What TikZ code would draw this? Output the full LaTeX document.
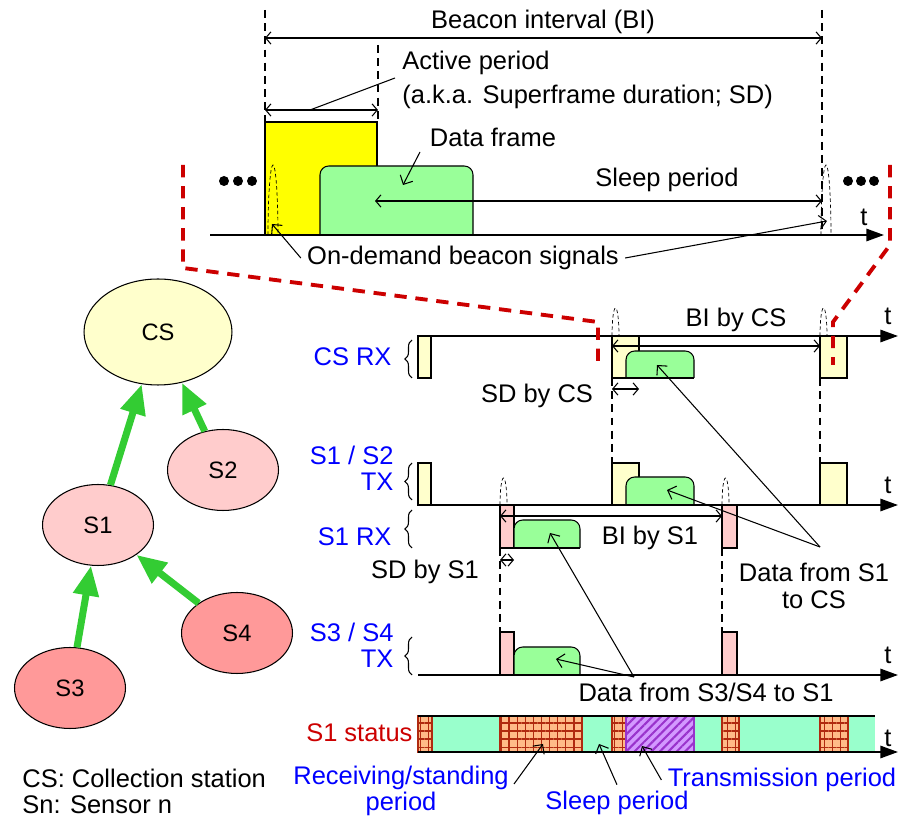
\documentclass[tikz,border=0pt]{standalone}
\usepackage{fontspec}
\setmainfont{Liberation Sans}
\usetikzlibrary{shapes.geometric, arrows.meta, positioning, patterns.meta, decorations.pathreplacing}
\definecolor{bcnyellow}{HTML}{FFFF00}
\definecolor{paleyellow}{HTML}{FFFFCC}
\definecolor{palepink}{HTML}{FFCCCC}
\definecolor{salmon}{HTML}{FF9999}
\definecolor{framegreen}{HTML}{99FF99}
\definecolor{linkgreen}{HTML}{33CC33}
\definecolor{sleepaqua}{HTML}{99FFCC}
\definecolor{rxorange}{HTML}{FFBB88}
\definecolor{rxgrid}{HTML}{B02A10}
\definecolor{txpurple}{HTML}{D399FF}
\definecolor{txline}{HTML}{9933CC}
\definecolor{zoomred}{HTML}{CC0000}
\definecolor{rowblue}{HTML}{0000FF}
\tikzstyle{axis} = [line width=1.1pt, -{Triangle[length=10pt,width=7pt]}]
\tikzstyle{span} = [{Straight Barb[length=3pt,width=7pt]}-{Straight Barb[length=3pt,width=7pt]}]
\tikzstyle{pointer} = [-{Straight Barb[length=4pt,width=8pt]}]
\tikzstyle{guide} = [dash pattern=on 4.5pt off 3pt]
\tikzstyle{beacon} = [thin, dash pattern=on 2pt off 1.5pt]
\tikzstyle{zoomline} = [zoomred, line width=2.2pt, dash pattern=on 7pt off 5pt]
\tikzstyle{station} = [ellipse, draw, font=\fontsize{13.5}{15}\selectfont, inner sep=0pt]
\tikzstyle{link} = [linkgreen, line width=4pt, -{Triangle[length=17pt,width=14pt]}]
\tikzstyle{rowlabel} = [rowblue, anchor=east, align=right, inner sep=0pt]
\tikzstyle{rowbrace} = [decorate, decoration={brace, amplitude=4pt}]
\tikzstyle{standby} = [fill=rxorange, draw=rxgrid, postaction={pattern={Hatch[angle=0,distance=4.6pt,line width=0.8pt]}, pattern color=rxgrid}]
\tikzstyle{asleep} = [fill=sleepaqua]
\tikzstyle{sending} = [fill=txpurple, draw=txline, postaction={pattern={Lines[angle=45,distance=3.4pt,line width=1.2pt]}, pattern color=txline}]
\newcommand{\dataframe}[4]{%
  \filldraw[fill=framegreen, rounded corners=5pt] (#1,#4) -- (#1,#2) -- (#3,#2) -- (#3,#4);
  \draw (#1,#4) -- (#3,#4);}

\begin{document}
\begin{tikzpicture}[x=0.02cm, y=-0.02cm, font=\fontsize{14.5}{15}\selectfont, semithick]
\useasboundingbox (0,0) rectangle (900,820);

% Network
\node (cs) [station, fill=paleyellow, minimum width=2.96cm, minimum height=2.12cm] at (158,332) {CS};
\node (s2) [station, fill=palepink, minimum width=2.22cm, minimum height=1.62cm] at (223,470) {S2};
\node (s1) [station, fill=palepink, minimum width=2.22cm, minimum height=1.62cm] at (98,525) {S1};
\node (s4) [station, fill=salmon, minimum width=2.22cm, minimum height=1.62cm] at (237,633) {S4};
\node (s3) [station, fill=salmon, minimum width=2.22cm, minimum height=1.62cm] at (70,688) {S3};
\draw [link] (s1) -- (cs);
\draw [link] (s2) -- (cs);
\draw [link] (s3) -- (s1);
\draw [link] (s4) -- (s1);
\node (legcs) [anchor=west] at (16,778) {CS: Collection station};
\node (legsn) [anchor=west] at (16,805) {Sn: Sensor n};

% Beacon interval (zoomed)
\draw [guide] (265,10) -- (265,235);
\draw [guide] (822,10) -- (822,235);
\draw [guide] (378,45) -- (378,122);
\filldraw [fill=bcnyellow] (265,122) rectangle (377,235);
\dataframe{320}{166}{473}{235}
\draw [beacon] (268,235) arc[start angle=180, end angle=360, x radius=5, y radius=70];
\draw [beacon] (821,235) arc[start angle=180, end angle=360, x radius=5, y radius=70];
\node (bi) at (543,22) {Beacon interval (BI)};
\draw [span] (265,38) -- (822,38);
\node (act) [anchor=west] at (396,63) {Active period};
\node (aka) [anchor=west] at (396,97) {(a.k.a. Superframe duration; SD)};
\draw [span] (265,110) -- (378,110);
\draw (310,110) -- (395,78);
\node (df) at (493,137) {Data frame};
\coordinate (dfin) at (403,185);
\draw [pointer] (420,152) -- (dfin);
\node (sleep) at (667,180) {Sleep period};
\draw [span] (375,201) -- (822,201);
\draw [axis] (210,235) -- (884,235);
\node (t0) at (864,217) {t};
\foreach \x in {224,238,252,848,861,874}
  \fill (\x,181) circle (5);
\node (odb) at (463,258) {On-demand beacon signals};
\coordinate (bcnL) at (272,224);
\coordinate (bcnR) at (827,221);
\draw [pointer] (odb.west) -- (bcnL);
\draw [pointer] (odb.east) -- (bcnR);

% CS RX
\filldraw [fill=paleyellow] (418,336) rectangle (431,378);
\filldraw [fill=paleyellow] (612,336) rectangle (639,378);
\filldraw [fill=paleyellow] (820,336) rectangle (847,378);
\dataframe{626}{351}{694}{378}
\draw [beacon] (612,336) arc[start angle=180, end angle=360, x radius=3.5, y radius=28];
\draw [beacon] (820,336) arc[start angle=180, end angle=360, x radius=3.5, y radius=28];
\draw [axis] (418,336) -- (898,336);
\node (t1) at (888,316) {t};
\draw [span] (612,346) -- (820,346);
\node (bics) at (736,320) {BI by CS};
\draw [span] (612,389) -- (639,389);
\node (sdcs) at (537,396) {SD by CS};
\draw [guide] (612,378) -- (612,463);
\draw [guide] (820,378) -- (820,463);
\node (csrx) [rowlabel] at (392,357) {CS RX};
\draw [rowbrace] (412,378) -- (412,340);

% S1 / S2 TX
\filldraw [fill=paleyellow] (418,463) rectangle (431,505);
\filldraw [fill=paleyellow] (612,463) rectangle (639,505);
\filldraw [fill=paleyellow] (820,463) rectangle (847,505);
\dataframe{626}{477}{694}{505}
\node (s12tx) [rowlabel] at (394,468) {S1 / S2\\TX};
\draw [rowbrace] (412,500) -- (412,463);

% S1 RX
\filldraw [fill=palepink] (500,505) rectangle (514,548);
\filldraw [fill=palepink] (722,505) rectangle (737,548);
\dataframe{514}{520}{580}{548}
\draw [beacon] (500,505) arc[start angle=180, end angle=360, x radius=3.5, y radius=27];
\draw [beacon] (722,505) arc[start angle=180, end angle=360, x radius=3.5, y radius=27];
\draw [axis] (418,505) -- (898,505);
\node (t2) at (888,485) {t};
\draw [span] (500,516) -- (722,516);
\node (bis1) at (650,538) {BI by S1};
\draw [span] (500,560) -- (514,560);
\node (sds1) at (425,572) {SD by S1};
\draw [guide] (500,548) -- (500,632);
\draw [guide] (722,548) -- (722,632);
\node (s1rx) [rowlabel] at (392,537) {S1 RX};
\draw [rowbrace] (412,548) -- (412,510);

% S3 / S4 TX
\filldraw [fill=palepink] (500,632) rectangle (514,675);
\filldraw [fill=palepink] (722,632) rectangle (737,675);
\dataframe{514}{647}{580}{675}
\draw [axis] (418,675) -- (898,675);
\node (t3) at (888,655) {t};
\node (s34tx) [rowlabel] at (394,645) {S3 / S4\\TX};
\draw [rowbrace] (412,675) -- (412,637);

% Data pointers
\node (d1cs) [align=center] at (814,586) {Data from S1\\to CS};
\coordinate (d1tail) at (820,547);
\coordinate (csdata) at (657,365);
\coordinate (s12data) at (667,490);
\draw [pointer] (d1tail) -- (csdata);
\draw [pointer] (d1tail) -- (s12data);
\node (d34) at (706,692) {Data from S3/S4 to S1};
\coordinate (d34tail) at (634,677);
\coordinate (s1rxdata) at (550,533);
\coordinate (s34data) at (556,659);
\draw [pointer] (d34tail) -- (s1rxdata);
\draw [pointer] (d34tail) -- (s34data);

% S1 status
\foreach \a/\b in {432/500, 582/612, 694/722, 739/820, 848/875}
  \fill [asleep] (\a,716) rectangle (\b,752);
\foreach \a/\b in {418/432, 500/582, 612/626, 722/739, 820/848}
  \filldraw [standby] (\a,716) rectangle (\b,752);
\filldraw [sending] (626,716) rectangle (694,752);
\draw (418,716) -- (875,716);
\draw [axis] (418,752) -- (898,752);
\node (t4) at (888,738) {t};
\node (s1st) [rowlabel, text=zoomred] at (413,733) {S1 status};
\node (rxlbl) [rowblue, align=center] at (401,791) {Receiving/standing\\period};
\node (sllbl) [rowblue] at (617,803) {Sleep period};
\node (txlbl) [rowblue] at (782,780) {Transmission period};
\coordinate (rxseg) at (543,744);
\coordinate (slseg) at (599,744);
\coordinate (txseg) at (642,746);
\draw [pointer] (514,784) -- (rxseg);
\draw [pointer] (sllbl.north) -- (slseg);
\draw [pointer] (txlbl.west) -- (txseg);

% Zoom markers
\draw [zoomline] (183,165) -- (183,268) -- (598,322) -- (598,365);
\draw [zoomline] (890,165) -- (890,245) -- (833,322) -- (833,365);

\end{tikzpicture}
\end{document}
